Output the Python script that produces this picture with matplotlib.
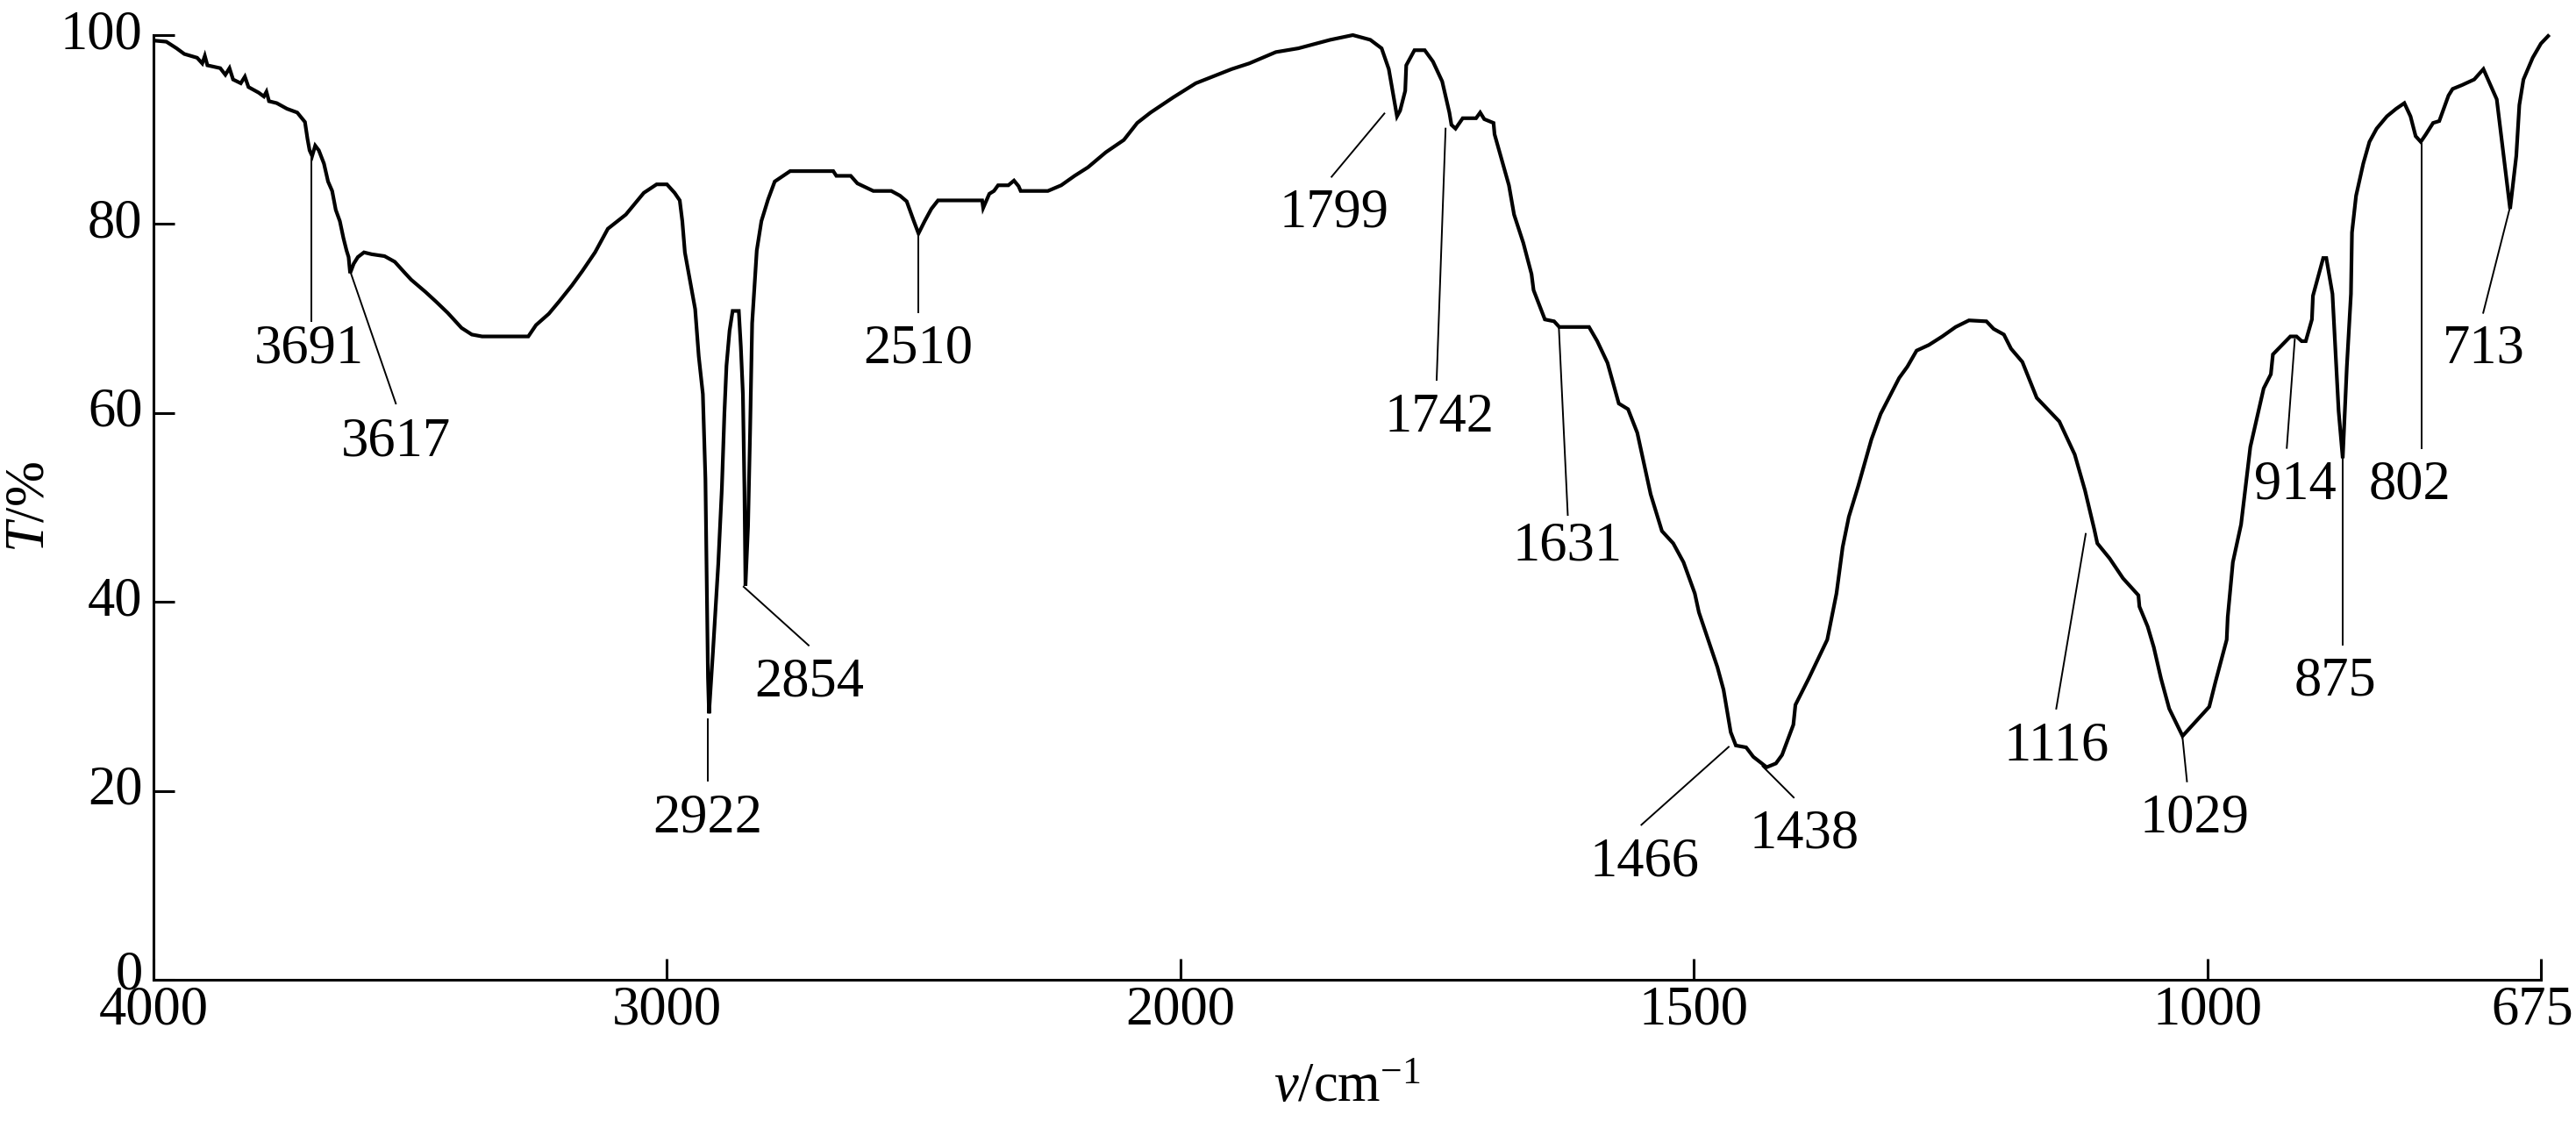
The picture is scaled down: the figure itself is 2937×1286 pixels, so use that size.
import numpy as np
import matplotlib
matplotlib.use('Agg')
import matplotlib.pyplot as plt
from matplotlib.transforms import ScaledTranslation

# ---------------- data ----------------
wavenumber = [
    3995, 3975, 3955, 3940, 3915, 3905, 3900, 3895, 3870, 3860, 3852, 3845, 3830, 3822,
    3815, 3795, 3785, 3780, 3775, 3760, 3740, 3720, 3705, 3700, 3696, 3691, 3685, 3678,
    3668, 3660, 3652, 3645, 3637, 3630, 3624, 3620, 3617, 3610, 3602, 3590, 3575, 3550,
    3530, 3510, 3498, 3470, 3450, 3427, 3400, 3380, 3360, 3270, 3255, 3230, 3210, 3185,
    3165, 3140, 3115, 3080, 3045, 3020, 3000, 2985, 2975, 2970, 2965, 2955, 2945, 2938,
    2930, 2925, 2922, 2920, 2918, 2910, 2900, 2893, 2888, 2884, 2878, 2872, 2860, 2856,
    2852, 2849, 2847, 2842, 2838, 2834, 2825, 2816, 2803, 2790, 2760, 2676, 2670, 2642,
    2629, 2598, 2563, 2546, 2533, 2519, 2510, 2498, 2485, 2472, 2386, 2384, 2372, 2363,
    2355, 2335, 2324, 2315, 2311, 2258, 2232, 2206, 2180, 2145, 2110, 2084, 2058, 2014,
    1985, 1950, 1933, 1907, 1885, 1854, 1832, 1815, 1804, 1797, 1789, 1786, 1781, 1780,
    1772, 1762, 1754, 1745, 1738, 1736, 1732, 1725, 1712, 1708, 1704, 1695, 1694, 1688,
    1680, 1675, 1666, 1658, 1656, 1645, 1636, 1631, 1602, 1594, 1584, 1573, 1564, 1555,
    1542, 1531, 1520, 1510, 1499, 1495, 1486, 1477, 1471, 1464, 1459, 1449, 1442, 1429,
    1420, 1414, 1403, 1401, 1388, 1370, 1361, 1355, 1349, 1340, 1327, 1318, 1309, 1300,
    1292, 1283, 1271, 1258, 1245, 1232, 1215, 1208, 1198, 1191, 1180, 1166, 1144, 1129,
    1119, 1110, 1107, 1095, 1082, 1067, 1066, 1058, 1052, 1045, 1037, 1024, 998, 992,
    981, 980, 975, 967, 958, 945, 938, 936, 919, 913, 908, 904, 898, 897,
    887, 884, 878, 872, 868, 864, 860, 859, 855, 848, 842, 835, 825, 816,
    808, 802, 797, 792, 787, 780, 774, 765, 761, 752, 740, 731, 718, 705,
    699, 696, 692, 683, 675, 668,
]
transmittance = [
    99.4, 99.3, 98.6, 98.0, 97.6, 97.0, 97.8, 96.8, 96.5, 95.8, 96.5, 95.3, 94.9, 95.6,
    94.5, 93.9, 93.5, 94.0, 93.0, 92.8, 92.2, 91.8, 90.8, 89.0, 87.8, 87.2, 88.3, 87.8,
    86.4, 84.5, 83.5, 81.5, 80.3, 78.5, 77.2, 76.5, 74.8, 75.8, 76.5, 77.0, 76.8, 76.6,
    76.0, 74.8, 74.1, 72.8, 71.8, 70.6, 69.0, 68.3, 68.1, 68.1, 69.3, 70.5, 71.8, 73.5,
    75.0, 77.0, 79.5, 81.0, 83.3, 84.2, 84.2, 83.3, 82.5, 80.3, 77.0, 74.0, 71.0, 66.0,
    62.0, 53.0, 40.0, 32.0, 28.2, 35.0, 44.0, 52.0, 60.0, 65.0, 68.7, 70.8, 70.8, 67.0,
    62.0, 52.0, 41.7, 48.0, 58.0, 69.5, 77.2, 80.3, 82.6, 84.5, 85.6, 85.6, 85.1, 85.1,
    84.3, 83.5, 83.5, 83.0, 82.4, 80.3, 79.0, 80.3, 81.6, 82.5, 82.5, 81.7, 83.2, 83.5,
    84.1, 84.1, 84.6, 84.0, 83.5, 83.5, 84.1, 85.1, 86.0, 87.6, 88.9, 90.7, 91.8, 93.4,
    94.9, 96.4, 97.0, 98.2, 98.6, 99.5, 100.0, 99.5, 98.6, 96.4, 91.4, 92.0, 94.1, 96.8,
    98.4, 98.4, 97.2, 95.1, 91.8, 90.5, 90.1, 91.2, 91.2, 91.8, 91.1, 90.7, 89.5, 87.2,
    84.1, 81.0, 78.0, 74.7, 73.0, 69.9, 69.7, 69.1, 69.1, 67.6, 65.3, 61.0, 60.4, 57.9,
    51.4, 47.5, 46.2, 44.2, 40.9, 38.9, 36.0, 33.1, 30.7, 26.2, 24.8, 24.6, 23.6, 22.5,
    22.9, 23.8, 27.0, 29.1, 31.9, 36.0, 40.9, 45.8, 49.0, 52.2, 57.2, 59.9, 61.8, 63.7,
    64.9, 66.6, 67.2, 68.1, 69.1, 69.8, 69.7, 68.9, 68.3, 66.8, 65.4, 61.6, 59.1, 55.6,
    51.8, 47.7, 46.2, 44.6, 42.5, 40.7, 39.5, 37.4, 35.2, 31.9, 28.7, 25.8, 28.9, 31.5,
    36.0, 38.4, 44.2, 48.2, 56.4, 62.6, 64.1, 66.2, 68.1, 68.1, 67.6, 67.6, 69.9, 72.4,
    76.4, 76.4, 72.6, 60.2, 55.2, 64.9, 72.6, 79.1, 83.0, 86.4, 88.7, 90.1, 91.4, 92.2,
    92.8, 91.4, 89.3, 88.7, 89.5, 90.7, 90.9, 93.6, 94.3, 94.7, 95.3, 96.4, 93.2, 81.6,
    87.2, 92.6, 95.3, 97.6, 99.1, 99.9,
]
peak_labels = ['3691', '3617', '2922', '2854', '2510', '1799', '1742', '1631',
               '1466', '1438', '1116', '1029', '914', '875', '802', '713']
x_ticks = [4000, 3000, 2000, 1500, 1000, 675]
y_ticks = [0, 20, 40, 60, 80, 100]

# ---------------- layout (positions of leader lines and labels) ----------------
# (line start nu, T), (line end nu, T), (label nu, label baseline T)
label_layout = [
    ((3693, 87.2), (3693, 69.7), (3697, 65.3)),
    ((3615, 74.7), (3528, 61.0), (3528, 55.5)),
    ((2920.6, 27.6), (2920.6, 21.1), (2920, 15.6)),
    ((2850.5, 41.6), (2724, 35.4), (2723, 30.0)),
    ((2510.6, 78.9), (2510.6, 70.7), (2510.6, 65.3)),
    ((1801.3, 91.7), (1852.7, 85.0), (1850, 79.7)),
    ((1741.7, 90.1), (1750.4, 63.5), (1747.8, 58.0)),
    ((1631.4, 69.1), (1622.7, 49.2), (1622.7, 44.4)),
    ((1466, 24.65), (1551, 16.4), (1548, 11.0)),
    ((1433, 22.6), (1402.7, 19.3), (1392.8, 13.96)),
    ((1118.3, 47.2), (1147, 28.7), (1147, 23.3)),
    ((1024, 25.6), (1019.7, 21.0), (1012.5, 15.6)),
    ((914.7, 67.8), (922.5, 56.3), (914.3, 50.9)),
    ((867.7, 55.2), (867.7, 35.5), (875.3, 30.1)),
    ((791.3, 88.5), (791.3, 56.3), (802.8, 50.9)),
    ((705.5, 81.6), (731.2, 70.6), (730.4, 65.3)),
]

plt.rcParams['font.family'] = ['Liberation Serif', 'DejaVu Serif']
plt.rcParams['mathtext.fontset'] = 'custom'
plt.rcParams['mathtext.rm'] = 'Liberation Serif'
plt.rcParams['mathtext.it'] = 'Liberation Serif:italic'

FS = 45


def fwd(v):
    v = np.asarray(v, dtype=float)
    return np.where(v >= 2000, v, 2 * v - 2000)


def inv(y):
    y = np.asarray(y, dtype=float)
    return np.where(y >= 2000, y, (y + 2000) / 2)


fig = plt.figure(figsize=(29.37, 12.86), dpi=100)
ax = fig.add_axes([175 / 2937, 169 / 1286, (2897 - 175) / 2937, (1117 - 40) / 1286])
ax.set_xscale('function', functions=(fwd, inv))

ax.plot(wavenumber, transmittance, color='black', lw=3.0, clip_on=False,
        solid_joinstyle='miter')

for text, (p0, p1, pt) in zip(peak_labels, label_layout):
    ax.plot([p0[0], p1[0]], [p0[1], p1[1]], color='black', lw=1.4, clip_on=False)
    ax.text(pt[0], pt[1], text, ha='center', va='baseline', fontsize=FS)

ax.set_xlim(4000, 675)
ax.set_ylim(0, 100)
ax.set_xticks(x_ticks)
ax.set_xticklabels([str(t) for t in x_ticks])
ax.set_yticks(y_ticks)
ax.set_yticklabels([str(t) for t in y_ticks])
ax.xaxis.set_minor_locator(matplotlib.ticker.NullLocator())
ax.yaxis.set_minor_locator(matplotlib.ticker.NullLocator())

for s in ['top', 'right']:
    ax.spines[s].set_visible(False)
for s in ['left', 'bottom']:
    ax.spines[s].set_linewidth(2.2)

ax.tick_params(axis='both', direction='in', length=17, width=2.2, labelsize=FS)
ax.tick_params(axis='x', pad=5)
ax.tick_params(axis='y', pad=9)

# keep the last x tick label inside the figure, as in the reference
last = ax.get_xticklabels()[-1]
last.set_transform(last.get_transform() + ScaledTranslation(-10 / 100, 0, fig.dpi_scale_trans))
# y tick labels sit slightly above their ticks in the reference
for i, lab in enumerate(ax.get_yticklabels()):
    dy = 12 if i == 0 else 7
    lab.set_transform(lab.get_transform() + ScaledTranslation(0, dy / 100, fig.dpi_scale_trans))

ax.set_xlabel(r'$\nu$/cm$^{-1}$', fontsize=FS)
ax.set_ylabel(r'$T$/%', fontsize=FS)
ax.xaxis.set_label_coords(0.5, -0.088)
ax.yaxis.set_label_coords(-0.041, 0.5)

fig.savefig('out.png', dpi=100)
